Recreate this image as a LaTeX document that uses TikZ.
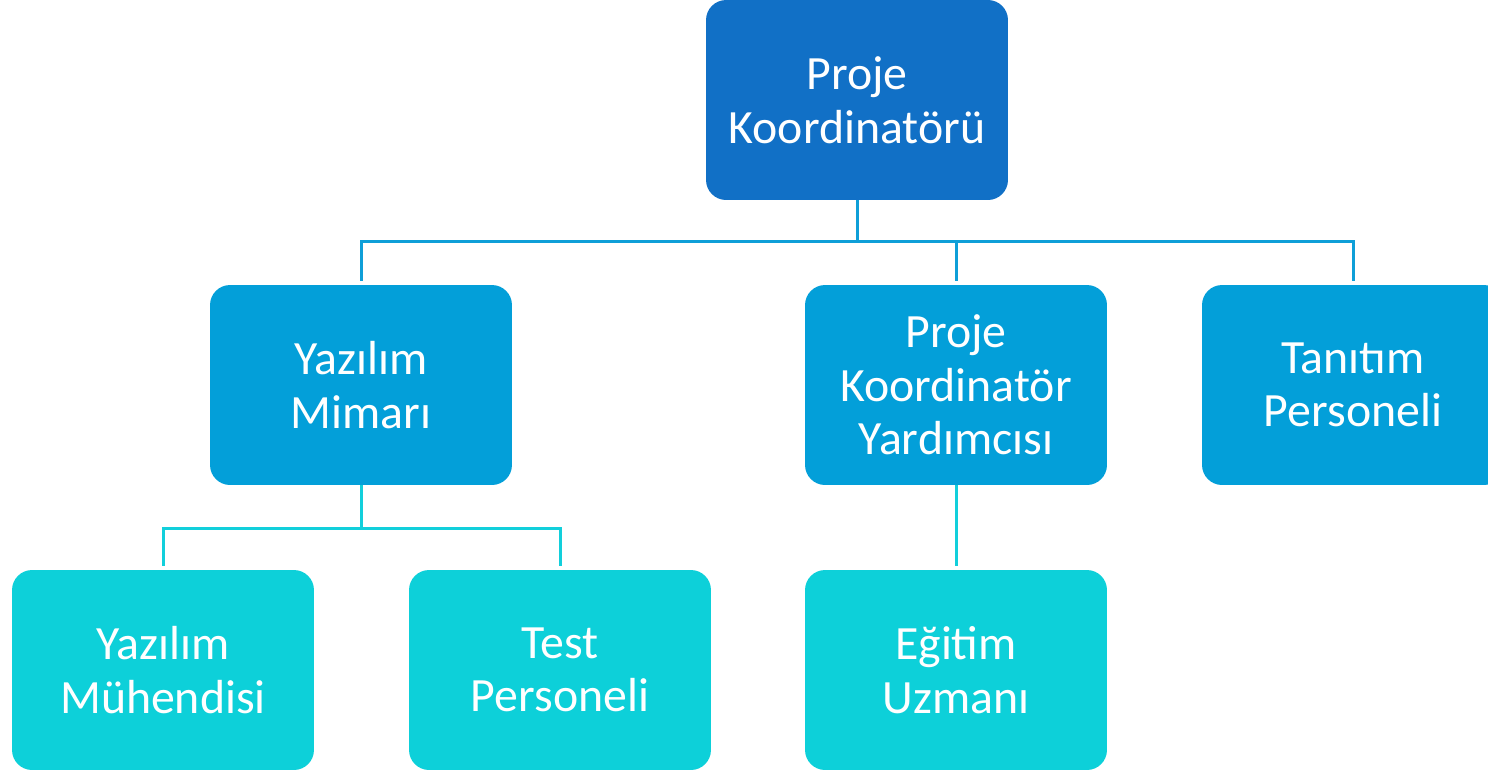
\documentclass[tikz,border=0pt]{standalone}
\usepackage{fontspec}
\setmainfont{Carlito}
\definecolor{topblue}{HTML}{1170C6}
\definecolor{midblue}{HTML}{039FD9}
\definecolor{lowcyan}{HTML}{0DD0D9}
\definecolor{busblue}{HTML}{0E9FD8}
\definecolor{buscyan}{HTML}{12CFDB}
\tikzset{
  box/.style={rectangle, rounded corners=0.4cm, minimum width=6.04cm, minimum height=4cm,
    inner sep=0pt, align=center, text=white,
    font=\fontsize{27.2}{30.5}\selectfont},
  topbox/.style={box, fill=topblue},
  midbox/.style={box, fill=midblue},
  lowbox/.style={box, fill=lowcyan},
  bus/.style={draw=busblue, line width=0.06cm},
  subbus/.style={draw=buscyan, line width=0.06cm},
}
\begin{document}
\begin{tikzpicture}[x=0.02cm,y=-0.02cm]
\useasboundingbox (0,0) rectangle (1488,771);
% boxes
\node[topbox] (pk)  at (857,100) {Proje\\Koordinatörü};
\node[midbox] (ym)  at (361,385) {Yazılım\\Mimarı};
\node[midbox] (pky) at (956,385) {Proje\\Koordinatör\\Yardımcısı};
\node[midbox] (tp)  at (1353,385) {Tanıtım\\Personeli};
\node[lowbox] (ymh) at (163,670) {Yazılım\\Mühendisi};
\node[lowbox] (tst) at (560,670) {Test\\Personeli};
\node[lowbox] (eu)  at (956,670) {Eğitim\\Uzmanı};
% first level connectors
\coordinate (b1) at (857,241);
\draw[bus] (pk.south) -- (b1);
\draw[bus, shorten >=0.08cm] (b1) -| (ym.north);
\draw[bus, shorten >=0.08cm] (b1) -| (pky.north);
\draw[bus, shorten >=0.08cm] (b1) -| (tp.north);
% second level connectors
\coordinate (b2) at (361,528);
\draw[subbus] (ym.south) -- (b2);
\draw[subbus, shorten >=0.08cm] (b2) -| (ymh.north);
\draw[subbus, shorten >=0.08cm] (b2) -| (tst.north);
\draw[subbus, shorten >=0.08cm] (pky.south) -- (eu.north);
\end{tikzpicture}
\end{document}
